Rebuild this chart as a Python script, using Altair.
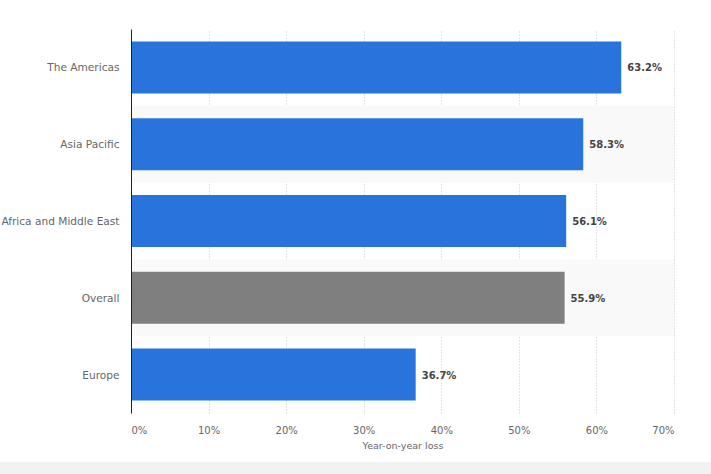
import altair as alt
import pandas as pd

regions = ["The Americas", "Asia Pacific", "Africa and Middle East", "Overall", "Europe"]
values = [0.632, 0.583, 0.561, 0.559, 0.367]
labels = ["63.2%", "58.3%", "56.1%", "55.9%", "36.7%"]
bar_colors = ["#2874dc", "#2874dc", "#2874dc", "#7f7f7f", "#2874dc"]
shaded = ["Asia Pacific", "Overall"]
ticks = [0, 0.1, 0.2, 0.3, 0.4, 0.5, 0.6, 0.7]
x_max = 0.7

df = pd.DataFrame({"region": regions, "value": values, "label": labels, "color": bar_colors})
shade_df = pd.DataFrame({"region": shaded, "start": [0.0] * len(shaded), "end": [x_max] * len(shaded)})

FONT = "DejaVu Sans"
W, H = 543, 384

yaxis = alt.Axis(labelColor="#666666", labelFontSize=10.6, labelFont=FONT,
                 labelPadding=12, labelOffset=1, ticks=False, domain=True, domainColor="#222222",
                 domainWidth=1, grid=False)
x_scale = alt.Scale(domain=[0, x_max], nice=False, zero=True)

shade = alt.Chart(shade_df).mark_rect(color="#f9f9f9").encode(
    y=alt.Y("region:N", sort=regions, title=None, axis=yaxis),
    x=alt.X("start:Q", scale=x_scale),
    x2="end:Q",
)

bars = alt.Chart(df).mark_bar(size=52).encode(
    y=alt.Y("region:N", sort=regions, title=None, axis=yaxis),
    x=alt.X("value:Q", scale=x_scale, title="Year-on-year loss",
            axis=alt.Axis(values=ticks, format=".0%", labelColor="#666666", labelFontSize=10,
                          labelFont=FONT, labelPadding=12, ticks=False, domain=False,
                          grid=True, gridColor="#c8c8c8", gridDash=[1, 2], gridWidth=1,
                          titleColor="#666666", titleFontSize=9.5, titleFont=FONT,
                          titleFontWeight="normal", titlePadding=5)),
    color=alt.Color("color:N", scale=None, legend=None),
)

text = alt.Chart(df).mark_text(align="left", baseline="middle", dx=6, dy=1, fontSize=10,
                               fontWeight="bold", color="#444444", font=FONT).encode(
    y=alt.Y("region:N", sort=regions),
    x=alt.X("value:Q", scale=x_scale),
    text="label:N",
)

strip = alt.Chart(pd.DataFrame({"k": [0]})).mark_rect(color="#f2f2f2").encode(
    x=alt.value(-131), x2=alt.value(580), y=alt.value(433), y2=alt.value(450)
)

chart = alt.layer(shade, bars, text, strip).properties(
    width=W, height=H,
    autosize=alt.AutoSizeParams(type="none"),
    padding={"left": 131, "top": 29, "right": 37, "bottom": 61},
    background="white",
).configure_view(stroke=None).configure_axisY(grid=False)

chart.save("out.html", embed_options={"renderer": "svg", "actions": False})
